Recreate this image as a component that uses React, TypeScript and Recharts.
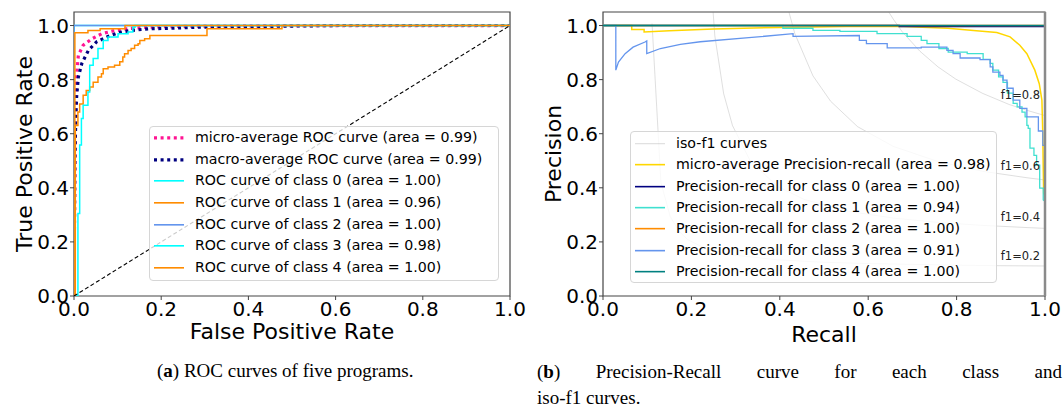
import React from "react";
import {
  LineChart,
  Line,
  XAxis,
  YAxis,
  ReferenceArea,
  ReferenceDot,
  ReferenceLine,
} from "recharts";

const FONT = "DejaVu Sans, sans-serif";
const AXIS_TICKS = [0, 0.2, 0.4, 0.6, 0.8, 1.0];

// ROC curves, (false positive rate, true positive rate)
const ROC_MICRO = [
  [0, 0], [0.002, 0.55], [0.004, 0.72], [0.006, 0.82], [0.01, 0.89], [0.021, 0.927],
  [0.041, 0.951], [0.064, 0.97], [0.09, 0.98], [0.121, 0.988], [0.167, 0.994],
  [0.25, 0.997], [0.4, 0.999], [1, 1],
];
const ROC_MACRO = [
  [0, 0], [0.002, 0.5], [0.004, 0.65], [0.006, 0.736], [0.01, 0.81], [0.018, 0.86],
  [0.033, 0.908], [0.052, 0.94], [0.079, 0.96], [0.102, 0.974], [0.132, 0.982],
  [0.174, 0.988], [0.227, 0.99], [0.289, 0.994], [0.45, 0.997], [0.6, 1], [1, 1],
];
const ROC_CLASS0 = [[0, 0], [0, 1], [1, 1]];
const ROC_CLASS1 = [
  [0, 0], [0.003, 0.63], [0.009, 0.68], [0.013, 0.71], [0.021, 0.742], [0.028, 0.76],
  [0.036, 0.773], [0.044, 0.79], [0.055, 0.81], [0.063, 0.822], [0.067, 0.84],
  [0.078, 0.847], [0.093, 0.853], [0.105, 0.866], [0.112, 0.884], [0.116, 0.896],
  [0.124, 0.908], [0.131, 0.915], [0.139, 0.927], [0.147, 0.933], [0.151, 0.945],
  [0.162, 0.951], [0.174, 0.963], [0.305, 0.988], [0.477, 1], [1, 1],
];
const ROC_CLASS2 = [[0, 0], [0, 1], [1, 1]];
const ROC_CLASS3 = [
  [0, 0], [0.009, 0.305], [0.013, 0.558], [0.017, 0.656], [0.021, 0.705], [0.032, 0.754],
  [0.036, 0.853], [0.044, 0.878], [0.055, 0.915], [0.067, 0.945], [0.078, 0.958],
  [0.101, 0.97], [0.124, 0.976], [0.135, 0.994], [0.14, 1], [1, 1],
];
const ROC_CLASS4 = [[0, 0], [0.002, 0.973], [0.032, 0.982], [0.06, 0.988], [0.117, 1], [1, 1]];
const ROC_CHANCE = [[0, 0], [1, 1]];

// Precision-recall curves, (recall, precision)
const ISO_F1_02 = [
  [0.111, 1.007], [0.131, 0.42], [0.152, 0.294], [0.172, 0.239], [0.192, 0.208], [0.232, 0.176],
  [0.293, 0.152], [0.394, 0.134], [0.495, 0.125], [0.596, 0.12], [0.697, 0.117],
  [0.798, 0.114], [0.899, 0.112], [1, 0.111],
];
const ISO_F1_04 = [
  [0.212, 3.5], [0.232, 1.438], [0.253, 0.962], [0.273, 0.748], [0.293, 0.63], [0.333, 0.5],
  [0.394, 0.406], [0.455, 0.357], [0.556, 0.313], [0.657, 0.288], [0.758, 0.272],
  [0.859, 0.261], [0.96, 0.253], [1, 0.25],
];
const ISO_F1_06 = [
  [0.313, 7.1], [0.333, 3.0], [0.354, 1.98], [0.374, 1.517], [0.394, 1.26], [0.414, 1.09],
  [0.434, 0.97], [0.475, 0.814], [0.515, 0.72], [0.576, 0.626], [0.657, 0.553],
  [0.758, 0.497], [0.859, 0.461], [0.96, 0.437], [1, 0.429],
];
const ISO_F1_08 = [
  [0.414, 11.7], [0.434, 5.06], [0.455, 3.33], [0.475, 2.54], [0.495, 2.08], [0.515, 1.79],
  [0.535, 1.58], [0.556, 1.43], [0.576, 1.31], [0.596, 1.22], [0.616, 1.14], [0.636, 1.077],
  [0.657, 1.023], [0.677, 0.977], [0.717, 0.905], [0.758, 0.847], [0.798, 0.802],
  [0.859, 0.749], [0.919, 0.708], [0.96, 0.686], [1, 0.667],
];
const PR_MICRO = [
  [0, 1], [0.065, 1], [0.065, 0.985], [0.093, 0.985], [0.093, 0.976], [0.15, 0.981],
  [0.25, 0.987], [0.4, 0.993], [0.55, 0.996], [0.68, 0.996], [0.78, 0.99], [0.838, 0.982],
  [0.891, 0.974], [0.921, 0.958], [0.943, 0.927], [0.959, 0.896], [0.977, 0.835],
  [0.987, 0.785], [0.993, 0.724], [0.995, 0.6], [0.996, 0.477], [0.997, 0.38], [1, 0.37],
];
const PR_CLASS0 = [[0, 1], [0.67, 1], [0.67, 0.996], [1, 0.996]];
const PR_CLASS1 = [
  [0, 1], [0.407, 1], [0.407, 0.99], [0.475, 0.99], [0.475, 0.982], [0.536, 0.982],
  [0.536, 0.978], [0.62, 0.978], [0.62, 0.97], [0.688, 0.97], [0.688, 0.96], [0.72, 0.96],
  [0.72, 0.945], [0.733, 0.945], [0.733, 0.933], [0.76, 0.933], [0.76, 0.915],
  [0.781, 0.915], [0.781, 0.902], [0.824, 0.902], [0.824, 0.896], [0.86, 0.896],
  [0.86, 0.875], [0.876, 0.875], [0.876, 0.86], [0.882, 0.86], [0.882, 0.835],
  [0.895, 0.835], [0.895, 0.81], [0.905, 0.81], [0.905, 0.79], [0.915, 0.79],
  [0.915, 0.75], [0.928, 0.75], [0.928, 0.712], [0.937, 0.712], [0.937, 0.699],
  [0.948, 0.699], [0.948, 0.68], [0.955, 0.68], [0.955, 0.662], [0.959, 0.662],
  [0.959, 0.631], [0.962, 0.631], [0.962, 0.62], [0.966, 0.62], [0.966, 0.547],
  [0.975, 0.547], [0.975, 0.52], [0.981, 0.52], [0.981, 0.484], [0.988, 0.484],
  [0.988, 0.399], [0.996, 0.399], [0.996, 0.355], [1, 0.35],
];
const PR_CLASS2 = [[0, 1], [1, 1]];
const PR_CLASS3 = [
  [0, 1], [0.029, 1], [0.029, 0.835], [0.035, 0.865], [0.05, 0.896], [0.068, 0.92],
  [0.095, 0.939], [0.099, 0.943], [0.099, 0.896], [0.13, 0.915], [0.175, 0.93],
  [0.22, 0.94], [0.33, 0.955], [0.43, 0.97], [0.43, 0.96], [0.58, 0.963], [0.58, 0.945],
  [0.596, 0.945], [0.596, 0.933], [0.643, 0.933], [0.643, 0.917], [0.72, 0.917],
  [0.72, 0.92], [0.778, 0.92], [0.778, 0.908], [0.792, 0.908], [0.792, 0.896],
  [0.808, 0.896], [0.808, 0.88], [0.853, 0.88], [0.853, 0.874], [0.876, 0.874],
  [0.876, 0.847], [0.882, 0.847], [0.882, 0.828], [0.898, 0.828], [0.898, 0.816],
  [0.905, 0.816], [0.905, 0.798], [0.914, 0.798], [0.914, 0.768], [0.928, 0.768],
  [0.928, 0.724], [0.943, 0.724], [0.943, 0.694], [0.959, 0.694], [0.959, 0.662],
  [0.985, 0.662], [0.985, 0.61], [0.995, 0.61], [0.995, 0.557], [1, 0.557],
];
const PR_CLASS4 = [[0, 1], [1, 1]];

// f1 annotations, (recall, precision) of the text baseline
const F1_LABELS = [
  ["f1=0.2", 0.9, 0.132],
  ["f1=0.4", 0.9, 0.276],
  ["f1=0.6", 0.9, 0.465],
  ["f1=0.8", 0.9, 0.728],
] as const;

const DOT = "3 3.6";

const ROC_SERIES = [
  { label: "micro-average ROC curve (area = 0.99)", data: ROC_MICRO, color: "#ff1493", w: 3.2, dash: DOT, step: false },
  { label: "macro-average ROC curve (area = 0.99)", data: ROC_MACRO, color: "#000080", w: 3.2, dash: DOT, step: false },
  { label: "ROC curve of class 0 (area = 1.00)", data: ROC_CLASS0, color: "#00ffff", w: 1.5, step: true },
  { label: "ROC curve of class 1 (area = 0.96)", data: ROC_CLASS1, color: "#ff8c00", w: 1.5, step: true },
  { label: "ROC curve of class 2 (area = 1.00)", data: ROC_CLASS2, color: "#6495ed", w: 1.5, step: true },
  { label: "ROC curve of class 3 (area = 0.98)", data: ROC_CLASS3, color: "#00ffff", w: 1.5, step: true },
  { label: "ROC curve of class 4 (area = 1.00)", data: ROC_CLASS4, color: "#ff8c00", w: 1.5, step: true },
];

const ISO_SERIES = [ISO_F1_02, ISO_F1_04, ISO_F1_06, ISO_F1_08];

const PR_SERIES = [
  { label: "micro-average Precision-recall (area = 0.98)", data: PR_MICRO, color: "#ffd700", w: 1.5 },
  { label: "Precision-recall for class 0 (area = 1.00)", data: PR_CLASS0, color: "#000080", w: 1.3 },
  { label: "Precision-recall for class 1 (area = 0.94)", data: PR_CLASS1, color: "#40e0d0", w: 1.3 },
  { label: "Precision-recall for class 2 (area = 1.00)", data: PR_CLASS2, color: "#ff8c00", w: 1.3 },
  { label: "Precision-recall for class 3 (area = 0.91)", data: PR_CLASS3, color: "#6495ed", w: 1.3 },
  { label: "Precision-recall for class 4 (area = 1.00)", data: PR_CLASS4, color: "#008080", w: 1.3 },
];

const pts = (arr: number[][]) => arr.map(([x, y]) => ({ x, y }));
const fmt = (v: number) => v.toFixed(1);

const tickStyle = { fontSize: 20, fill: "#000", fontFamily: FONT };
const labelStyle = { fontSize: 22, fill: "#000", fontFamily: FONT };

type LegendItem = { label: string; color: string; w: number; dash?: string; opacity?: number };

function LegendBox({
  left, top, width, height, rowH, padTop, handleLeft, textLeft, items,
}: {
  left: number; top: number; width: number; height: number; rowH: number; padTop: number;
  handleLeft: number; textLeft: number; items: LegendItem[];
}) {
  return (
    <div
      style={{
        position: "absolute", left, top, width, height, boxSizing: "border-box",
        border: "1px solid #d6d6d6", borderRadius: 4, background: "rgba(255,255,255,0.8)",
        fontFamily: FONT, fontSize: 14.2, color: "#000",
      }}
    >
      {items.map((it, i) => (
        <div key={i} style={{ position: "absolute", left: 0, top: padTop + i * rowH, height: rowH, width: "100%" }}>
          <svg width={30} height={rowH} style={{ position: "absolute", left: handleLeft - 1, top: 0 }}>
            <line
              x1={0} x2={30} y1={rowH / 2} y2={rowH / 2} stroke={it.color} strokeWidth={it.w}
              strokeDasharray={it.dash} strokeOpacity={it.opacity ?? 1}
            />
          </svg>
          <span style={{ position: "absolute", left: textLeft - 1, top: 0, lineHeight: `${rowH}px`, whiteSpace: "nowrap" }}>
            {it.label}
          </span>
        </div>
      ))}
    </div>
  );
}

function ROCChart() {
  return (
    <div style={{ position: "absolute", left: 0, top: 0 }}>
      <LineChart width={530} height={350} margin={{ top: 12, right: 20, bottom: 0, left: 0 }} style={{ overflow: "visible" }}>
        <XAxis
          type="number" dataKey="x" domain={[0, 1]} ticks={AXIS_TICKS} interval={0} allowDataOverflow
          tickFormatter={fmt} axisLine={false} tickLine={{ stroke: "#444" }} tickSize={4} tickMargin={2}
          height={54} tick={tickStyle}
          label={{ value: "False Positive Rate", position: "insideBottom", offset: 11, style: labelStyle }}
        />
        <YAxis
          type="number" domain={[0, 1.05]} ticks={AXIS_TICKS} interval={0} allowDataOverflow
          tickFormatter={fmt} axisLine={false} tickLine={{ stroke: "#444" }} tickSize={4} tickMargin={1}
          width={74} tick={tickStyle}
          label={{ value: "True Positive Rate", angle: -90, position: "insideLeft", offset: 24, style: { ...labelStyle, textAnchor: "middle" } }}
        />
        <ReferenceArea x1={0} x2={1} y1={0} y2={1.05} fill="none" stroke="#444" strokeWidth={1.2} ifOverflow="visible" />
        {ROC_SERIES.map((s, i) => (
          <Line
            key={i} data={pts(s.data)} dataKey="y" type={s.step ? "stepAfter" : "linear"}
            stroke={s.color} strokeWidth={s.w} strokeDasharray={s.dash} dot={false} activeDot={false}
            isAnimationActive={false}
          />
        ))}
        <Line
          data={pts(ROC_CHANCE)} dataKey="y" type="linear" stroke="#000" strokeWidth={1.1}
          strokeDasharray="4 2.5" dot={false} activeDot={false} isAnimationActive={false}
        />
      </LineChart>
      <LegendBox
        left={149} top={126} width={350} height={155} rowH={21.65} padTop={0}
        handleLeft={5} textLeft={46}
        items={ROC_SERIES.map((s) => ({ label: s.label, color: s.color, w: s.dash ? 3.2 : 1.6, dash: s.dash }))}
      />
    </div>
  );
}

function PRChart() {
  return (
    <div style={{ position: "absolute", left: 530, top: 0 }}>
      <LineChart width={534} height={350} margin={{ top: 12, right: 19, bottom: 0, left: 0 }} style={{ overflow: "visible" }}>
        <XAxis
          type="number" dataKey="x" domain={[0, 1]} ticks={AXIS_TICKS} interval={0} allowDataOverflow
          tickFormatter={fmt} axisLine={false} tickLine={{ stroke: "#444" }} tickSize={4} tickMargin={2}
          height={54} tick={tickStyle}
          label={{ value: "Recall", position: "insideBottom", offset: 8, style: labelStyle }}
        />
        <YAxis
          type="number" domain={[0, 1.05]} ticks={AXIS_TICKS} interval={0} allowDataOverflow
          tickFormatter={fmt} axisLine={false} tickLine={{ stroke: "#444" }} tickSize={4} tickMargin={1}
          width={73} tick={tickStyle}
          label={{ value: "Precision", angle: -90, position: "insideLeft", offset: 23, style: { ...labelStyle, textAnchor: "middle" } }}
        />
        <ReferenceArea x1={0} x2={1} y1={0} y2={1.05} fill="none" stroke="#444" strokeWidth={1.2} ifOverflow="visible" />
        {ISO_SERIES.map((d, i) => (
          <Line
            key={`iso${i}`} data={pts(d)} dataKey="y" type="linear" stroke="#808080" strokeOpacity={0.25}
            strokeWidth={1} dot={false} activeDot={false} isAnimationActive={false}
          />
        ))}
        {F1_LABELS.map(([t, x, y]) => (
          <ReferenceDot
            key={t} x={x} y={y} r={0} fill="none" stroke="none"
            label={(p: any) => (
              <text x={p.viewBox.x} y={p.viewBox.y} fontSize={11.5} fontFamily={FONT} fill="#222">
                {t}
              </text>
            )}
          />
        ))}
        {PR_SERIES.map((s, i) => (
          <Line
            key={i} data={pts(s.data)} dataKey="y" type="linear" stroke={s.color} strokeWidth={s.w}
            dot={false} activeDot={false} isAnimationActive={false}
          />
        ))}
        <ReferenceLine x={1} stroke="#8a8a8a" strokeWidth={2.5} />
      </LineChart>
      <LegendBox
        left={100} top={131} width={367} height={152} rowH={21.3} padTop={1}
        handleLeft={5} textLeft={46}
        items={[
          { label: "iso-f1 curves", color: "#808080", w: 1.2, opacity: 0.25 },
          ...PR_SERIES.map((s) => ({ label: s.label, color: s.color, w: 1.6 })),
        ]}
      />
    </div>
  );
}

export default function App() {
  return (
    <div style={{ position: "absolute", left: 0, top: 0, width: 1064, height: 408, background: "#fff", overflow: "hidden" }}>
      <ROCChart />
      <PRChart />
      <div style={{ position: "absolute", left: 157, top: 359, fontFamily: "Liberation Serif, serif", fontSize: 19, whiteSpace: "nowrap", lineHeight: "24px" }}>
        (<b>a</b>) ROC curves of five programs.
      </div>
      <div style={{ position: "absolute", left: 537, top: 359, width: 525, fontFamily: "Liberation Serif, serif", fontSize: 19, lineHeight: "26px" }}>
        <div style={{ textAlign: "justify", textAlignLast: "justify" }}>
          (<b>b</b>) Precision-Recall curve for each class and
        </div>
        <div>iso-f1 curves.</div>
      </div>
    </div>
  );
}
